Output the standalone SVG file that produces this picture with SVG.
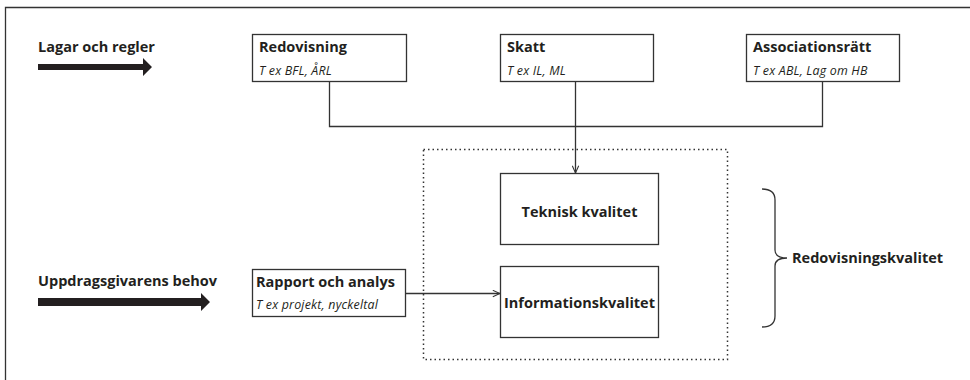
<svg xmlns="http://www.w3.org/2000/svg" width="970" height="380" viewBox="0 0 970 380">
<defs>
<style>
.t{font-family:"Open Sans","Liberation Sans",sans-serif;font-weight:700;font-size:14.5px;fill:#231f20}
.s{font-family:"Open Sans","Liberation Sans",sans-serif;font-style:italic;font-size:12.4px;fill:#231f20;letter-spacing:0.2px}
.box{fill:#fff;stroke:#333;stroke-width:1.3}
.ln{fill:none;stroke:#333;stroke-width:1.3}
</style>
<marker id="open" viewBox="0 0 10 10" refX="10" refY="5" markerWidth="8" markerHeight="8" markerUnits="userSpaceOnUse" orient="auto">
<path d="M1,1 L10,5 L1,9" fill="none" stroke="#333" stroke-width="1.3"/>
</marker>
</defs>
<rect width="970" height="380" fill="#fff"/>
<path d="M5.5,380 V7.5 H970" class="ln" stroke-width="1.6"/>

<g id="lagar">
<text x="38" y="52" class="t">Lagar och regler</text>
<path d="M38,64 H143 V58 L152,67 L143,76 V70 H38 Z" fill="#231f20"/>
</g>
<g id="uppdrag">
<text x="38" y="286" class="t">Uppdragsgivarens behov</text>
<path d="M38,298 H201 V293 L210,302 L201,311 V306 H38 Z" fill="#231f20"/>
</g>

<g id="redovisning">
<rect x="252.5" y="34.5" width="154" height="47" class="box"/>
<text x="259" y="52" class="t">Redovisning</text>
<text x="259" y="75" class="s">T ex BFL, ÅRL</text>
</g>
<g id="skatt">
<rect x="500.5" y="34.5" width="153" height="47" class="box"/>
<text x="507" y="52" class="t">Skatt</text>
<text x="507" y="75" class="s">T ex IL, ML</text>
</g>
<g id="association">
<rect x="746.5" y="34.5" width="153" height="47" class="box"/>
<text x="753" y="52" class="t">Associationsrätt</text>
<text x="753" y="75" class="s">T ex ABL, Lag om HB</text>
</g>
<g id="rapport">
<rect x="252.5" y="269.5" width="153" height="47" class="box"/>
<text x="256" y="287" class="t">Rapport och analys</text>
<text x="256" y="309" class="s">T ex projekt, nyckeltal</text>
</g>

<g id="kvalitet">
<rect x="423.5" y="149.5" width="304" height="210" fill="none" stroke="#333" stroke-width="1.5" stroke-dasharray="1.5 3"/>
</g>
<g id="teknisk">
<rect x="500.5" y="173.5" width="158" height="71" class="box"/>
<text x="579.5" y="217" class="t" text-anchor="middle">Teknisk kvalitet</text>
</g>
<g id="information">
<rect x="500.5" y="266.5" width="158" height="71" class="box"/>
<text x="579.5" y="308" class="t" text-anchor="middle">Informationskvalitet</text>
</g>

<g id="redovisningskvalitet">
<path d="M762,189 Q775,189 775,200 V250 Q775,258 787,258 Q775,258 775,266 V316 Q775,327 762,327" class="ln"/>
<text x="792" y="263" class="t">Redovisningskvalitet</text>
</g>

<g id="connectors">
<path d="M329.5,81 V126.5 H822.5 V81" class="ln"/>
<path d="M575.5,81 V173" class="ln" marker-end="url(#open)"/>
<path d="M406,293.5 H500" class="ln" marker-end="url(#open)"/>
</g>
</svg>
